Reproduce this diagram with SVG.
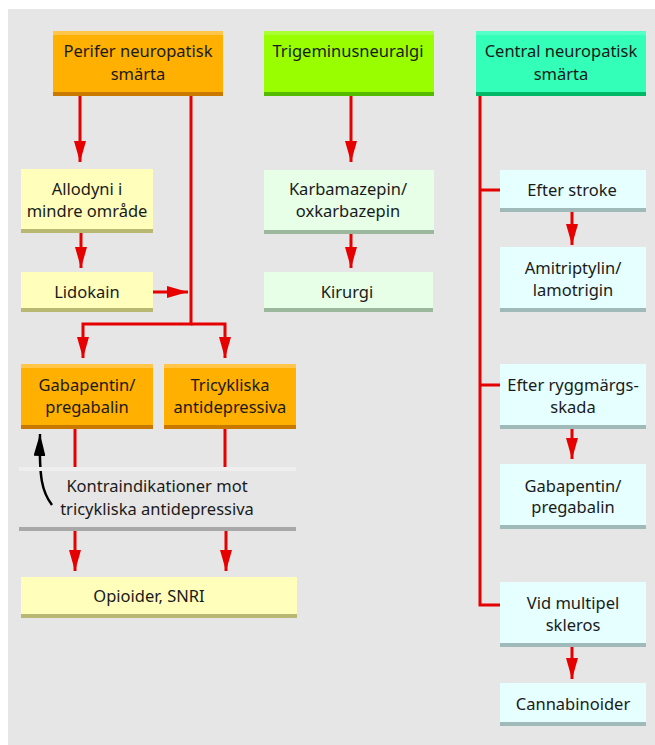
<svg xmlns="http://www.w3.org/2000/svg" width="655" height="745" viewBox="0 0 655 745">
<defs>
<style>
text{font-family:"Noto Sans","Liberation Sans",sans-serif;font-size:16.5px;fill:#1a1a1a;text-anchor:middle}
.c{fill:none;stroke:#e60000;stroke-width:3}
.or{fill:#ffb000}.or-t{fill:#ffc64a}.or-b{fill:#c97800}
.gr{fill:#99ff00}.gr-t{fill:#aaff33}.gr-b{fill:#55bb00}
.tq{fill:#33ffb8}.tq-t{fill:#55ffc8}.tq-b{fill:#00b866}
.ye{fill:#ffffbb}.ye-b{fill:#b8b873}
.lg{fill:#e6ffe6}.lg-b{fill:#9cb89c}
.lc{fill:#e6ffff}.lc-b{fill:#a0baba}
</style>
<marker id="ah" markerUnits="userSpaceOnUse" markerWidth="21" markerHeight="12" refX="21" refY="6" orient="auto">
<path d="M0,0 L21,6 L0,12 z" fill="#e60000"/>
</marker>
<marker id="ahk" markerUnits="userSpaceOnUse" markerWidth="22" markerHeight="12" refX="22" refY="6" orient="auto">
<path d="M0,0 L22,6 L0,12 z" fill="#000"/>
</marker>
</defs>
<rect x="8" y="9" width="647" height="736" fill="#e6e6e6"/>

<g id="connectors">
<line class="c" x1="80" y1="96" x2="80" y2="162" marker-end="url(#ah)"/>
<line class="c" x1="81" y1="233" x2="81" y2="268" marker-end="url(#ah)"/>
<polyline class="c" points="191,96 191,324 83,324 83,358" marker-end="url(#ah)"/>
<polyline class="c" points="191,324 225,324 225,358" marker-end="url(#ah)"/>
<line class="c" x1="153" y1="292" x2="188" y2="292" marker-end="url(#ah)"/>
<line class="c" x1="75" y1="429" x2="75" y2="467"/>
<line class="c" x1="225" y1="429" x2="225" y2="467"/>
<line class="c" x1="75" y1="531" x2="75" y2="571" marker-end="url(#ah)"/>
<line class="c" x1="226" y1="531" x2="226" y2="571" marker-end="url(#ah)"/>
<path d="M52,505 C42,492 39,478 40,434" fill="none" stroke="#000" stroke-width="2.5" marker-end="url(#ahk)"/>
<line class="c" x1="351" y1="96" x2="351" y2="162" marker-end="url(#ah)"/>
<line class="c" x1="351" y1="234" x2="351" y2="268" marker-end="url(#ah)"/>
<polyline class="c" points="480,96 480,605 500,605"/>
<line class="c" x1="480" y1="190" x2="500" y2="190"/>
<line class="c" x1="480" y1="385" x2="500" y2="385"/>
<line class="c" x1="572" y1="212" x2="572" y2="245" marker-end="url(#ah)"/>
<line class="c" x1="572" y1="429" x2="572" y2="459" marker-end="url(#ah)"/>
<line class="c" x1="572" y1="647" x2="572" y2="679" marker-end="url(#ah)"/>
</g>

<g id="perifer">
<rect class="or" x="53" y="31" width="170" height="65"/>
<rect class="or-t" x="53" y="31" width="170" height="4"/>
<rect class="or-b" x="53" y="92" width="170" height="4"/>
<text x="138" y="57">Perifer neuropatisk</text>
<text x="138" y="80">smärta</text>
</g>
<g id="trigeminus">
<rect class="gr" x="264" y="31" width="170" height="65"/>
<rect class="gr-t" x="264" y="31" width="170" height="4"/>
<rect class="gr-b" x="264" y="92" width="170" height="4"/>
<text x="348" y="57">Trigeminusneuralgi</text>
</g>
<g id="central">
<rect class="tq" x="476" y="31" width="170" height="65"/>
<rect class="tq-t" x="476" y="31" width="170" height="4"/>
<rect class="tq-b" x="476" y="92" width="170" height="4"/>
<text x="561" y="57">Central neuropatisk</text>
<text x="561" y="80">smärta</text>
</g>

<g id="allodyni">
<rect class="ye" x="21" y="169" width="132" height="64"/>
<rect class="ye-b" x="21" y="229" width="132" height="4"/>
<text x="87" y="195">Allodyni i</text>
<text x="87" y="217">mindre område</text>
</g>
<g id="lidokain">
<rect class="ye" x="21" y="272" width="132" height="40"/>
<rect class="ye-b" x="21" y="308" width="132" height="4"/>
<text x="87" y="298">Lidokain</text>
</g>
<g id="gabapentin1">
<rect class="or" x="21" y="364" width="132" height="65"/>
<rect class="or-t" x="21" y="364" width="132" height="4"/>
<rect class="or-b" x="21" y="425" width="132" height="4"/>
<text x="87" y="391">Gabapentin/</text>
<text x="87" y="413">pregabalin</text>
</g>
<g id="tricykliska">
<rect class="or" x="164" y="364" width="132" height="65"/>
<rect class="or-t" x="164" y="364" width="132" height="4"/>
<rect class="or-b" x="164" y="425" width="132" height="4"/>
<text x="230" y="391">Tricykliska</text>
<text x="230" y="413">antidepressiva</text>
</g>
<g id="kontraindikationer">
<rect x="19" y="467" width="277" height="4" fill="#eeeeee"/>
<rect x="19" y="527" width="277" height="4" fill="#a8a8a8"/>
<text x="157" y="492">Kontraindikationer mot</text>
<text x="157" y="515">tricykliska antidepressiva</text>
</g>
<g id="opioider">
<rect class="ye" x="21" y="577" width="276" height="41"/>
<rect class="ye-b" x="21" y="614" width="276" height="4"/>
<text x="149" y="602">Opioider, SNRI</text>
</g>

<g id="karbamazepin">
<rect class="lg" x="264" y="170" width="170" height="64"/>
<rect class="lg-b" x="264" y="230" width="170" height="4"/>
<text x="348" y="195">Karbamazepin/</text>
<text x="348" y="217">oxkarbazepin</text>
</g>
<g id="kirurgi">
<rect class="lg" x="264" y="272" width="169" height="40"/>
<rect class="lg-b" x="264" y="308" width="169" height="4"/>
<text x="347" y="298">Kirurgi</text>
</g>

<g id="efter-stroke">
<rect class="lc" x="500" y="170" width="146" height="42"/>
<rect class="lc-b" x="500" y="208" width="146" height="4"/>
<text x="572" y="196">Efter stroke</text>
</g>
<g id="amitriptylin">
<rect class="lc" x="500" y="247" width="146" height="65"/>
<rect class="lc-b" x="500" y="308" width="146" height="4"/>
<text x="573" y="274">Amitriptylin/</text>
<text x="573" y="296">lamotrigin</text>
</g>
<g id="efter-ryggmargsskada">
<rect class="lc" x="500" y="364" width="146" height="65"/>
<rect class="lc-b" x="500" y="425" width="146" height="4"/>
<text x="573" y="391">Efter ryggmärgs-</text>
<text x="573" y="413">skada</text>
</g>
<g id="gabapentin2">
<rect class="lc" x="500" y="464" width="146" height="65"/>
<rect class="lc-b" x="500" y="525" width="146" height="4"/>
<text x="573" y="492">Gabapentin/</text>
<text x="573" y="513">pregabalin</text>
</g>
<g id="multipel-skleros">
<rect class="lc" x="500" y="582" width="146" height="65"/>
<rect class="lc-b" x="500" y="643" width="146" height="4"/>
<text x="573" y="609">Vid multipel</text>
<text x="573" y="631">skleros</text>
</g>
<g id="cannabinoider">
<rect class="lc" x="500" y="683" width="146" height="43"/>
<rect class="lc-b" x="500" y="722" width="146" height="4"/>
<text x="573" y="710">Cannabinoider</text>
</g>
</svg>
